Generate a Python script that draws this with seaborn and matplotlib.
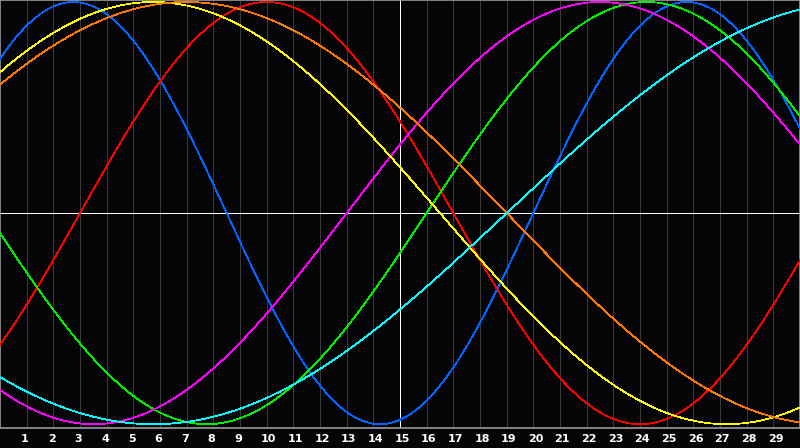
import numpy as np
import pandas as pd
import matplotlib
matplotlib.use("Agg")
import matplotlib.pyplot as plt
import matplotlib.transforms as mtransforms
import seaborn as sns

# ---- data ----
cycles = ["Physical", "Emotional", "Intellectual", "Intuitive", "Aesthetic", "Awareness", "Spiritual"]
periods = [23, 28, 33, 38, 43, 48, 53]            # cycle length in days
cycle_day_at_start = [3, 25, 17, 25, 5, 5, 34]     # day within each cycle at left edge of chart
colors = ["#0064ff", "#ff0000", "#00f000", "#ff00ff", "#ffff00", "#ff7800", "#00ffff"]
day_labels = list(range(1, 30))
today = 15
n_days = 30

# ---- build long table ----
t = np.linspace(0, n_days, 801)
rows = []
for name, p, d0 in zip(cycles, periods, cycle_day_at_start):
    rows.append(pd.DataFrame({"day": t, "value": np.sin(2 * np.pi * (d0 + t) / p), "cycle": name}))
df = pd.concat(rows, ignore_index=True)

sns.set_theme(style="dark")
bg = "#050508"
fig = plt.figure(figsize=(8, 4.48), dpi=100, facecolor=bg)
ax = fig.add_axes([0, 20 / 448, 1, 428 / 448])
ax.set_facecolor(bg)

# vertical day grid
for d in day_labels:
    ax.axvline(d, color="#ffffff" if d == today else "#3a3a3a",
               lw=0.7, antialiased=False, zorder=1)
ax.axhline(0, color="#ffffff", lw=0.7, antialiased=False, zorder=1)

sns.lineplot(data=df, x="day", y="value", hue="cycle", hue_order=cycles,
             palette=dict(zip(cycles, colors)), ax=ax, legend=False,
             linewidth=0.55, estimator=None, sort=False, zorder=3)
for ln in ax.lines:
    ln.set_antialiased(False)

ax.set_xlim(0, n_days)
ax.set_ylim(-1.018, 1.0095)
ax.set_xticks([])
ax.set_yticks([])
ax.set_xlabel("")
ax.set_ylabel("")
ax.grid(False)
for s in ax.spines.values():
    s.set_visible(True)
    s.set_color("#9a9a9a")
    s.set_linewidth(1.2)

# day labels below axis
px_per_day = 800 / n_days
trans = mtransforms.blended_transform_factory(ax.transData, ax.transAxes)
for d in day_labels:
    ax.text(d - 5.5 / px_per_day, (428 - 439) / 428, str(d), transform=trans,
            ha="left", va="center", color="white", fontsize=8, fontweight="bold",
            family="DejaVu Sans", clip_on=False)

fig.savefig("out.png", dpi=100, facecolor=bg)
